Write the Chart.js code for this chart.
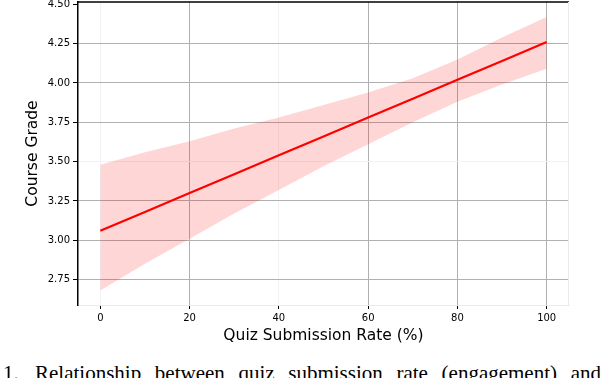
<!DOCTYPE html>
<html>
<head>
<meta charset="utf-8">
<script src="https://cdn.jsdelivr.net/npm/chart.js@4.4.0/dist/chart.umd.min.js"></script>
<style>
  html, body { margin: 0; padding: 0; background: #fff; }
  body { width: 602px; height: 378px; position: relative; overflow: hidden; }
  #wrap { position: absolute; left: 0; top: -7px; width: 602px; height: 352px; }
  #caption {
    position: absolute; left: 0; top: 363px; width: 602px; height: 30px;
    font-family: "Liberation Serif", serif; font-size: 21px; line-height: 21px;
    color: #000; white-space: nowrap;
  }
  #caption .num { position: absolute; left: 3px; top: 0; }
  #caption .txt {
    position: absolute; left: 35px; top: 0; width: 566px;
    text-align: justify; text-align-last: justify; white-space: normal;
  }
</style>
</head>
<body>
<div id="wrap"><canvas id="chart"></canvas></div>
<div id="caption"><span class="num">1.</span><span class="txt">Relationship between quiz submission rate (engagement) and</span></div>
<script>
// values
const rates = [0, 10, 20, 30, 40, 50, 60, 70, 80, 90, 100];
const fitGrade = [3.06, 3.18, 3.30, 3.42, 3.54, 3.66, 3.78, 3.90, 4.02, 4.14, 4.26];
const upperBand = [3.48, 3.56, 3.63, 3.71, 3.78, 3.86, 3.94, 4.03, 4.15, 4.29, 4.42];
const lowerBand = [2.68, 2.85, 3.01, 3.17, 3.32, 3.47, 3.61, 3.75, 3.88, 3.99, 4.09];
const xTicks = [0, 20, 40, 60, 80, 100];
const yTicks = [2.75, 3.00, 3.25, 3.50, 3.75, 4.00, 4.25, 4.50];
const fadedX = [0, 40];
const fadedY = [3.50];

const toPoints = (ys) => rates.map((x, i) => ({ x: x, y: ys[i] }));

// top (black) and right (light) frame lines
const frame = {
  id: "frame",
  afterDraw(chart) {
    const { ctx, chartArea: a } = chart;
    ctx.save();
    ctx.lineWidth = 1.5;
    ctx.strokeStyle = "#000";
    ctx.beginPath();
    ctx.moveTo(a.left, a.top);
    ctx.lineTo(a.right, a.top);
    ctx.stroke();
    ctx.lineWidth = 1;
    ctx.strokeStyle = "#ebebeb";
    ctx.beginPath();
    ctx.moveTo(a.right - 0.5, a.top);
    ctx.lineTo(a.right - 0.5, a.bottom);
    ctx.stroke();
    ctx.restore();
  }
};

const ctx = document.getElementById("chart").getContext("2d");
new Chart(ctx, {
  type: "line",
  data: {
    datasets: [
      {
        label: "upper",
        data: toPoints(upperBand),
        borderWidth: 0,
        pointRadius: 0,
        backgroundColor: "rgba(255, 0, 0, 0.16)",
        fill: "+1",
        order: 2
      },
      {
        label: "lower",
        data: toPoints(lowerBand),
        borderWidth: 0,
        pointRadius: 0,
        fill: false,
        order: 2
      },
      {
        label: "fit",
        data: toPoints(fitGrade),
        borderColor: "#ff0000",
        borderWidth: 2.2,
        pointRadius: 0,
        fill: false,
        order: 1
      }
    ]
  },
  options: {
    responsive: true,
    maintainAspectRatio: false,
    animation: false,
    layout: { padding: { top: 8, right: 33, left: 0, bottom: 0 } },
    plugins: { legend: { display: false }, tooltip: { enabled: false } },
    scales: {
      x: {
        type: "linear",
        min: -5,
        max: 105,
        afterBuildTicks: (s) => { s.ticks = xTicks.map(v => ({ value: v })); },
        afterFit: (s) => { s.height = 40; },
        grid: {
          color: (c) => fadedX.includes(c.tick && c.tick.value) ? "#f2f2f2" : "#b0b0b0",
          tickColor: "#000",
          tickLength: 4,
          lineWidth: 1
        },
        border: { color: "#ebebeb", width: 1 },
        ticks: {
          color: "#000",
          padding: 3,
          maxRotation: 0,
          font: { family: "DejaVu Sans", size: 10 },
          callback: (v) => String(v)
        },
        title: {
          display: true,
          text: "Quiz Submission Rate (%)",
          color: "#000",
          font: { family: "DejaVu Sans", size: 15.5 },
          padding: { top: 0, bottom: 0 }
        }
      },
      y: {
        min: 2.588,
        max: 4.515,
        afterBuildTicks: (s) => { s.ticks = yTicks.map(v => ({ value: v })); },
        afterFit: (s) => { s.width = 78; },
        grid: {
          color: (c) => {
            const v = c.tick && c.tick.value;
            if (v === 4.5) return "rgba(0,0,0,0)";
            return fadedY.includes(v) ? "#f2f2f2" : "#b0b0b0";
          },
          tickColor: "#000",
          tickLength: 5,
          lineWidth: 1
        },
        border: { color: "#000", width: 1.5 },
        ticks: {
          color: "#000",
          padding: 3,
          font: { family: "DejaVu Sans", size: 10 },
          callback: (v) => Number(v).toFixed(2)
        },
        title: {
          display: true,
          text: "Course Grade",
          color: "#000",
          font: { family: "DejaVu Sans", size: 15.5 },
          padding: { top: 24, bottom: 0 }
        }
      }
    }
  },
  plugins: [frame]
});
</script>
</body>
</html>
